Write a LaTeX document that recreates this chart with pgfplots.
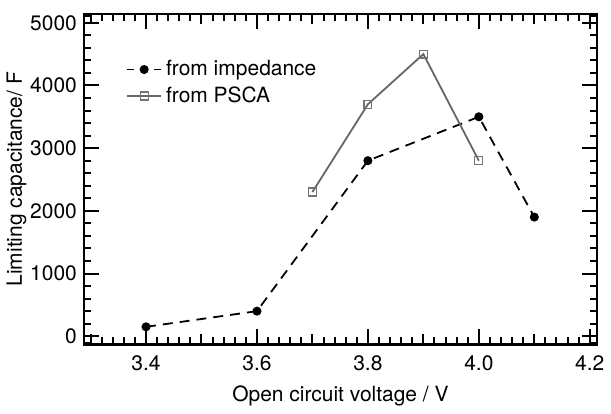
\documentclass[border=0pt]{standalone}
\usepackage{fontspec}
\setmainfont{TeX Gyre Heros}
\usepackage{pgfplots}
\pgfplotsset{compat=1.18}

\begin{document}
\begin{tikzpicture}
\begin{axis}[
    width=257pt, height=165.5pt,
    scale only axis,
    xmin=3.288, xmax=4.213,
    ymin=-130, ymax=5140,
    xtick={3.4,3.6,3.8,4.0,4.2},
    xticklabels={3.4,3.6,3.8,4.0,4.2},
    minor xtick={3.30,3.32,...,4.21},
    extra x ticks={3.3,3.5,3.7,3.9,4.1},
    extra x tick labels={},
    extra x tick style={major tick length=5pt},
    ytick={0,1000,2000,3000,4000,5000},
    minor ytick={-100,200,400,600,800,1200,1400,1600,1800,2200,2400,2600,2800,3200,3400,3600,3800,4200,4400,4600,4800,5100},
    major tick length=7.5pt,
    minor tick length=3.5pt,
    tick align=inside,
    tick style={line width=1pt, black},
    axis line style={line width=1.3pt},
    /pgf/number format/assume math mode=true,
    scaled y ticks=false,
    yticklabel style={/pgf/number format/1000 sep={}},
    xticklabel style={yshift=-2pt},
    font=\fontsize{10.5}{12.5}\selectfont,
    xlabel={Open circuit voltage / V},
    ylabel={Limiting capacitance/  F},
    xlabel style={yshift=-1pt},
    ylabel style={yshift=-5pt},
    legend style={at={(0.07,0.885)}, anchor=north west, draw=none, fill=none,
        font=\fontsize{10.5}{12.5}\selectfont, row sep=0pt},
    legend cell align=left,
]
\addplot[black, line width=0.9pt, dash pattern=on 5pt off 3.5pt,
    mark=*, mark size=1.8pt, mark options={solid},
    legend image post style={dash pattern=on 3.5pt off 10pt}]
  coordinates {(3.4,150) (3.6,400) (3.8,2800) (4.0,3500) (4.1,1900)};
\addlegendentry{from impedance}
\addplot[black!60, line width=0.9pt,
    mark=square, mark size=2pt, mark options={solid, black!55, line width=0.6pt}]
  coordinates {(3.7,2300) (3.8,3700) (3.9,4500) (4.0,2800)};
\addlegendentry{from PSCA}
\end{axis}
\path (current axis.north) ++(0,7pt);
\end{tikzpicture}
\end{document}
